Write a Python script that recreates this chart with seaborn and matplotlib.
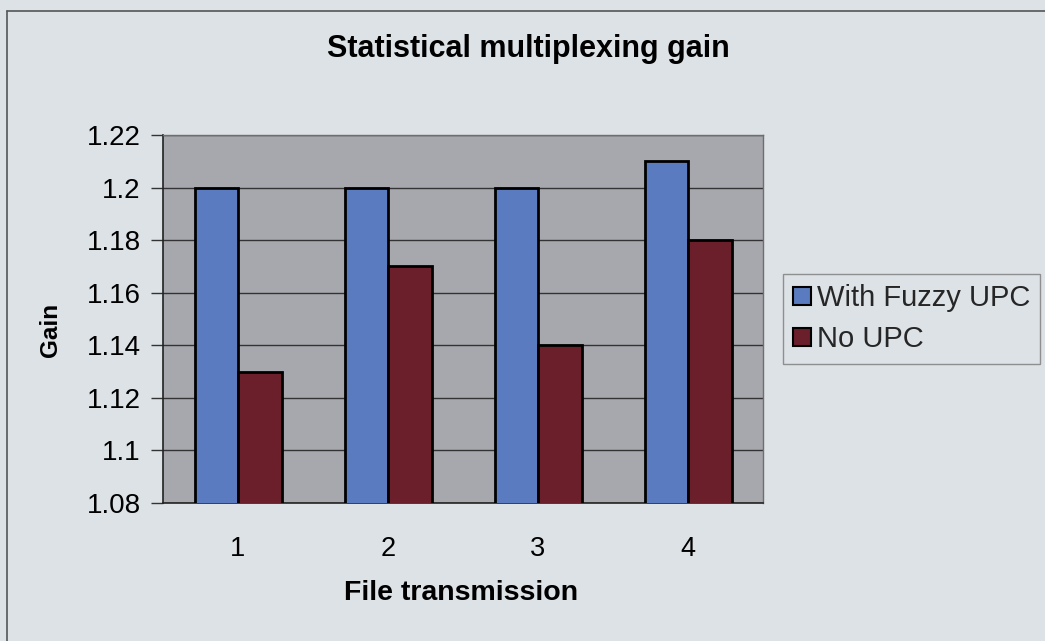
import matplotlib
matplotlib.use("Agg")
import matplotlib.pyplot as plt
from matplotlib.lines import Line2D
from matplotlib.patches import Patch
import seaborn as sns
import pandas as pd

# Chart data
transmissions = ["1", "2", "3", "4"]
with_fuzzy_upc = [1.20, 1.20, 1.20, 1.21]
no_upc = [1.13, 1.17, 1.14, 1.18]
series_names = ["With Fuzzy UPC", "No UPC"]
y_ticks = [1.08, 1.10, 1.12, 1.14, 1.16, 1.18, 1.20, 1.22]
y_tick_labels = ["1.08", "1.1", "1.12", "1.14", "1.16", "1.18", "1.2", "1.22"]

df = pd.DataFrame({
    "transmission": transmissions * 2,
    "gain": with_fuzzy_upc + no_upc,
    "series": [series_names[0]] * len(transmissions) + [series_names[1]] * len(transmissions),
})

PAPER = "#dde2e6"
PLOT_BG = "#a7a8ad"
BLUE = "#5a7bbf"
WINE = "#6a1f2b"

sns.set_theme(style="white")
plt.rcParams["font.family"] = ["Liberation Sans", "DejaVu Sans"]

W, H = 1045, 641
fig = plt.figure(figsize=(W / 100, H / 100), dpi=100)
fig.patch.set_facecolor(PAPER)

ax = fig.add_axes([163 / W, 1 - 503 / H, 600 / W, 368 / H])
ax.set_facecolor(PLOT_BG)

sns.barplot(
    data=df, x="transmission", y="gain", hue="series",
    palette=[BLUE, WINE], width=0.58, gap=0, saturation=1,
    edgecolor="black", linewidth=2, legend=False, ax=ax, zorder=3,
)

ax.set_ylim(1.08, 1.22)
ax.set_xlim(-0.5, 3.5)
ax.set_yticks(y_ticks)
ax.set_yticklabels(y_tick_labels)
ax.yaxis.grid(True, color="#333333", linewidth=1.0, zorder=1)
ax.set_axisbelow(True)

# category boundary ticks on the x axis, labels centred without ticks
ax.set_xticks([0.5, 1.5, 2.5], minor=True)
ax.tick_params(axis="x", which="major", length=0, labelsize=19.5, pad=24, colors="black")
ax.tick_params(axis="x", which="minor", length=9, width=1, color="#333333", direction="out")
ax.tick_params(axis="y", which="major", length=9, width=1, color="#333333", direction="out",
               left=True, labelsize=20, pad=7, labelcolor="black")

for side in ("top", "right"):
    ax.spines[side].set_color("#6e6e6e")
    ax.spines[side].set_linewidth(1)
for side in ("left", "bottom"):
    ax.spines[side].set_color("#222222")
    ax.spines[side].set_linewidth(1.2)

ax.set_xlabel("")
ax.set_ylabel("")

fig.text(461 / W, 1 - 593 / H, "File transmission", ha="center", va="center",
         fontsize=20.5, fontweight="bold", color="black")
fig.text(50 / W, 1 - 330 / H, "Gain", ha="center", va="center", rotation=90,
         fontsize=17.5, fontweight="bold", color="black")
fig.text(528 / W, 1 - 49 / H, "Statistical multiplexing gain", ha="center", va="center",
         fontsize=22, fontweight="bold", color="black")

# legend box at the right edge
handles = [Patch(facecolor=c, edgecolor="black", linewidth=1.5) for c in (BLUE, WINE)]
leg = fig.legend(
    handles, series_names, loc="upper left",
    bbox_to_anchor=(783 / W, 1 - 274 / H), bbox_transform=fig.transFigure,
    fontsize=21, frameon=True, fancybox=False, borderpad=0.35,
    handlelength=0.6, handleheight=0.6, handletextpad=0.2, labelspacing=0.45,
    borderaxespad=0,
)
leg.get_frame().set_facecolor(PAPER)
leg.get_frame().set_edgecolor("#7a7a7a")
leg.get_frame().set_linewidth(1)

# outer chart frame (top and left edges visible)
fig.add_artist(Line2D([7 / W, 7 / W], [0, 1 - 11 / H], transform=fig.transFigure,
                      color="#555555", linewidth=1.2))
fig.add_artist(Line2D([7 / W, 1], [1 - 11 / H, 1 - 11 / H], transform=fig.transFigure,
                      color="#555555", linewidth=1.2))

fig.savefig("out.png", dpi=100, facecolor=PAPER)
